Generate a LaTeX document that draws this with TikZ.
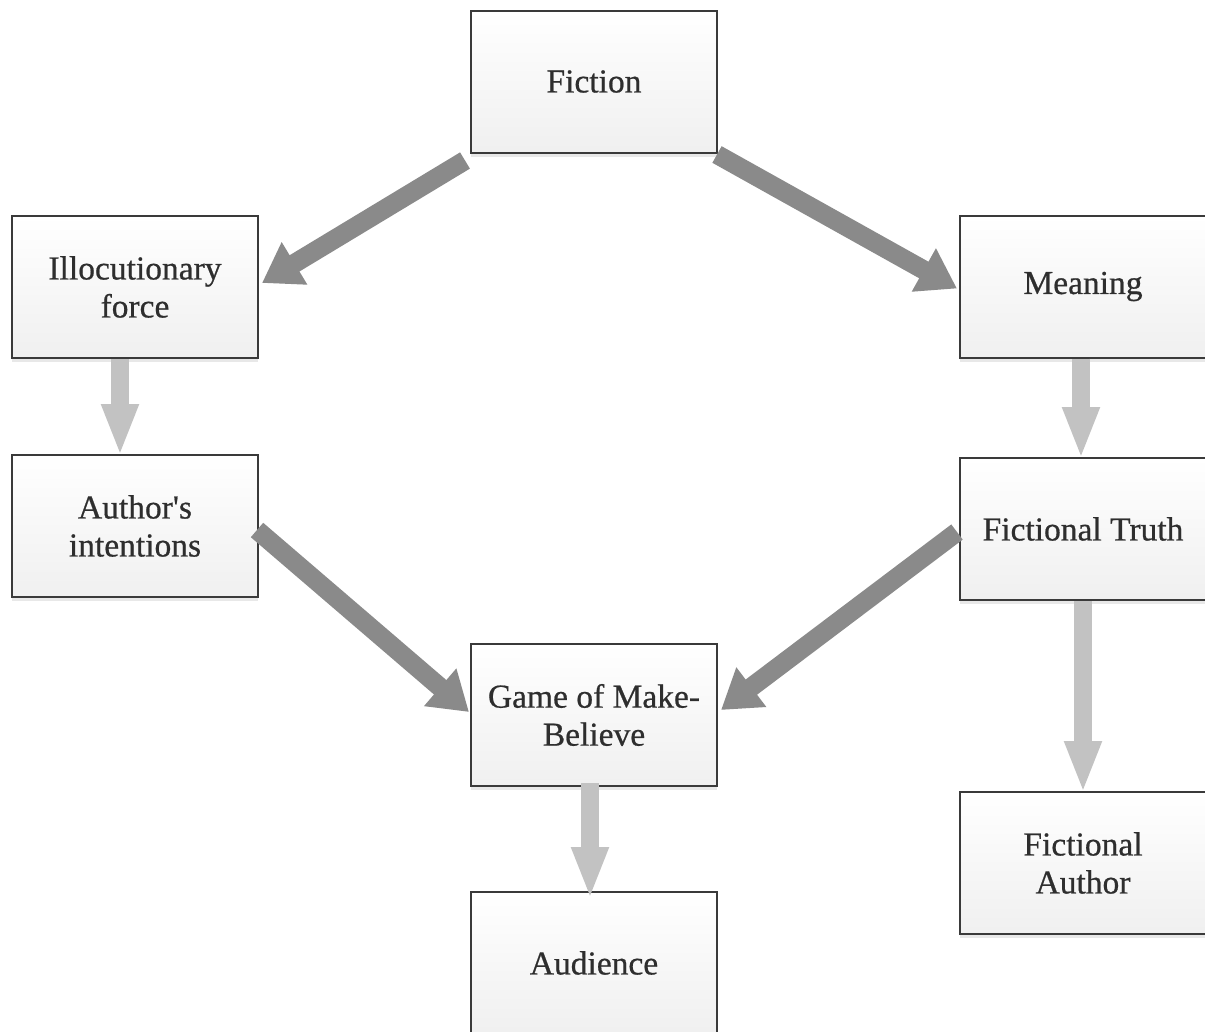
\documentclass[tikz,border=0pt]{standalone}
\usepackage{fontspec}
\setmainfont{Liberation Serif}
\newfontfamily\boxfont{Liberation Serif}[FakeBold=0.6]
\usetikzlibrary{arrows.meta,shadows}
\definecolor{boxline}{HTML}{3A3A3A}
\definecolor{boxtext}{HTML}{2E2E2E}
\definecolor{diagarrow}{HTML}{8A8A8A}
\definecolor{vertarrow}{HTML}{C2C2C2}
\tikzset{
  conceptbox/.style={draw=boxline, line width=2pt, rectangle,
    minimum width=246pt, minimum height=142pt, inner sep=0pt,
    top color=white, bottom color=black!6,
    drop shadow={shadow xshift=0pt, shadow yshift=-4pt, opacity=.18, fill=black!50},
    align=center, text=boxtext,
    font=\boxfont\fontsize{33.5}{38}\selectfont},
  diagflow/.style={draw=diagarrow, line width=19pt,
    -{Triangle[length=38pt,width=47pt]}},
  vertflow/.style={draw=vertarrow, line width=18pt,
    -{Triangle[length=52pt,width=34pt]}}
}
\begin{document}
\begin{tikzpicture}[x=1pt,y=-1pt]
\useasboundingbox (0,0) rectangle (1205,1031);
\clip (0,0) rectangle (1205,1031);
\fill[white] (0,0) rectangle (1205,1031);

% concept boxes
\node[conceptbox] (fic)  at (594,81.5)  {Fiction};
\node[conceptbox] (ill)  at (135,287)   {Illocutionary\\force};
\node[conceptbox] (mea)  at (1083,286.5){Meaning};
\node[conceptbox] (aut)  at (135,526)   {Author\textquotesingle s\\intentions};
\node[conceptbox] (ft)   at (1083,529)  {Fictional Truth};
\node[conceptbox] (game) at (594,715)   {Game of Make-\\Believe};
\node[conceptbox] (fa)   at (1083,863)  {Fictional\\Author};
\node[conceptbox] (aud)  at (594,963)   {Audience};

% diagonal flows
\draw[diagflow] ([shift={(-5,7)}]fic.south west) -- ([shift={(3,-4)}]ill.east);
\draw[diagflow] ([shift={(-1,1)}]fic.south east) -- ([shift={(-2,2)}]mea.west);
\draw[diagflow] ([shift={(-2,4)}]aut.east) -- ([shift={(-1,-3)}]game.west);
\draw[diagflow] ([shift={(-2,3)}]ft.west) -- ([shift={(3,-5)}]game.east);

% vertical flows
\draw[vertflow] ([xshift=-15pt]ill.south) -- ([xshift=-15pt,yshift=-2pt]aut.north);
\draw[vertflow] ([xshift=-2pt]mea.south) -- ([xshift=-2pt,yshift=-2pt]ft.north);
\draw[vertflow] ([xshift=-4pt,yshift=4pt]game.south) -- ([xshift=-4pt,yshift=-8pt]aud.north);
\draw[vertflow] (ft.south) -- ([yshift=-2pt]fa.north);
\end{tikzpicture}
\end{document}
